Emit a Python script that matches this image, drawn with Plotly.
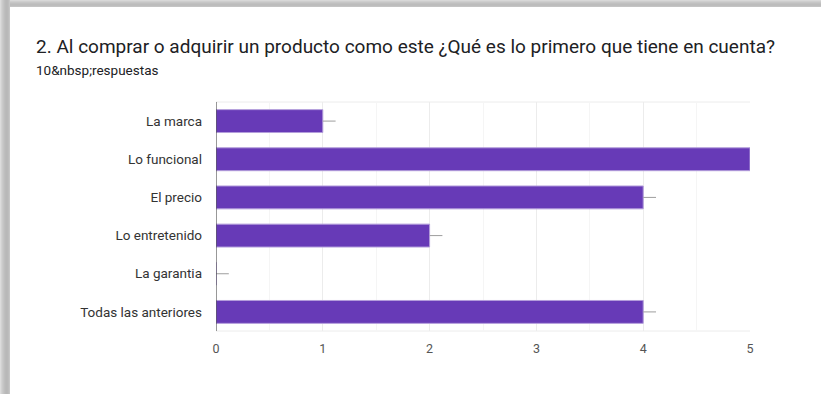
import plotly.graph_objects as go

# Survey answers (horizontal bar chart, top to bottom)
categories = ["La marca", "Lo funcional", "El precio", "Lo entretenido",
              "La garantia", "Todas las anteriores"]
counts = [1, 5, 4, 2, 0, 4]
x_ticks = [0, 1, 2, 3, 4, 5]

title_text = "2. Al comprar o adquirir un producto como este ¿Qué es lo primero que tiene en cuenta?"
subtitle_text = "10&amp;nbsp;respuestas"

W, H = 821, 394
ML, MR, MT, MB = 216, 71, 102, 63
PW, PH = W - ML - MR, H - MT - MB
FONT = "Roboto, Arial, sans-serif"


def px_x(p):
    return (p - ML) / PW


def px_y(p):
    return (H - MB - p) / PH


fig = go.Figure()
fig.add_trace(go.Bar(
    y=categories,
    x=counts,
    orientation="h",
    width=0.6,
    marker=dict(color="#673ab7", line=dict(color="#b39ddb", width=1)),
    error_x=dict(type="data", array=[0.12] * len(counts),
                 arrayminus=[0] * len(counts), symmetric=False,
                 color="#9e9e9e", thickness=1, width=0),
    hoverinfo="skip",
))

# Card shadow along the top and left edges
shapes = []
left_shades = ["#dcdcdc", "#d2d2d2", "#cacaca", "#c4c4c4", "#bebebe",
               "#bababa", "#b8b8b8", "#b9b9b9", "#bdbdbd", "#c6c6c6"]
for i, c in enumerate(left_shades):
    shapes.append(dict(type="rect", xref="paper", yref="paper",
                       x0=px_x(i), x1=px_x(i + 1), y0=px_y(H), y1=px_y(0),
                       fillcolor=c, line=dict(width=0), layer="below"))
top_shades = ["#d8d8d8", "#cecece", "#c6c6c6", "#c0c0c0", "#bcbcbc",
              "#bdbdbd", "#c4c4c4"]
for i, c in enumerate(top_shades):
    shapes.append(dict(type="rect", xref="paper", yref="paper",
                       x0=px_x(10), x1=px_x(W), y0=px_y(i + 1), y1=px_y(i),
                       fillcolor=c, line=dict(width=0), layer="below"))

fig.update_layout(
    width=W, height=H,
    margin=dict(l=ML, r=MR, t=MT, b=MB, pad=0),
    paper_bgcolor="white", plot_bgcolor="white",
    showlegend=False,
    font=dict(family=FONT, color="#333333"),
    shapes=shapes,
    xaxis=dict(
        range=[0, 5], tickvals=x_ticks, ticktext=[str(t) for t in x_ticks],
        showgrid=True, gridcolor="#ececec", gridwidth=1,
        minor=dict(dtick=0.5, showgrid=True, gridcolor="#f5f5f5", gridwidth=1),
        zeroline=False, showline=False, ticks="", ticklen=0,
        ticklabelstandoff=8,
        tickfont=dict(size=12.5, color="#555555"), fixedrange=True,
    ),
    yaxis=dict(
        categoryorder="array", categoryarray=categories[::-1],
        showgrid=False, zeroline=False, ticks="", ticklen=0,
        ticklabelstandoff=13, tickfont=dict(size=13.5, color="#333333"),
        range=[-0.5, 5.5], fixedrange=True,
    ),
)

# Axis baseline at x = 0 and the top/bottom frame lines
fig.add_shape(type="line", xref="x", yref="paper", x0=0, x1=0, y0=0, y1=1,
              line=dict(color="#333333", width=1))
fig.add_shape(type="line", xref="paper", yref="paper", x0=0, x1=1, y0=0, y1=0,
              line=dict(color="#ececec", width=1), layer="below")
fig.add_shape(type="line", xref="paper", yref="paper", x0=0, x1=1, y0=1, y1=1,
              line=dict(color="#ececec", width=1), layer="below")

fig.add_annotation(text=title_text, xref="paper", yref="paper",
                   x=px_x(34), y=px_y(46), xanchor="left", yanchor="middle",
                   showarrow=False,
                   font=dict(size=19, color="#202124", family=FONT))
fig.add_annotation(text=subtitle_text, xref="paper", yref="paper",
                   x=px_x(34), y=px_y(70), xanchor="left", yanchor="middle",
                   showarrow=False,
                   font=dict(size=13.5, color="#202124", family=FONT))

fig.write_html("out.html")
